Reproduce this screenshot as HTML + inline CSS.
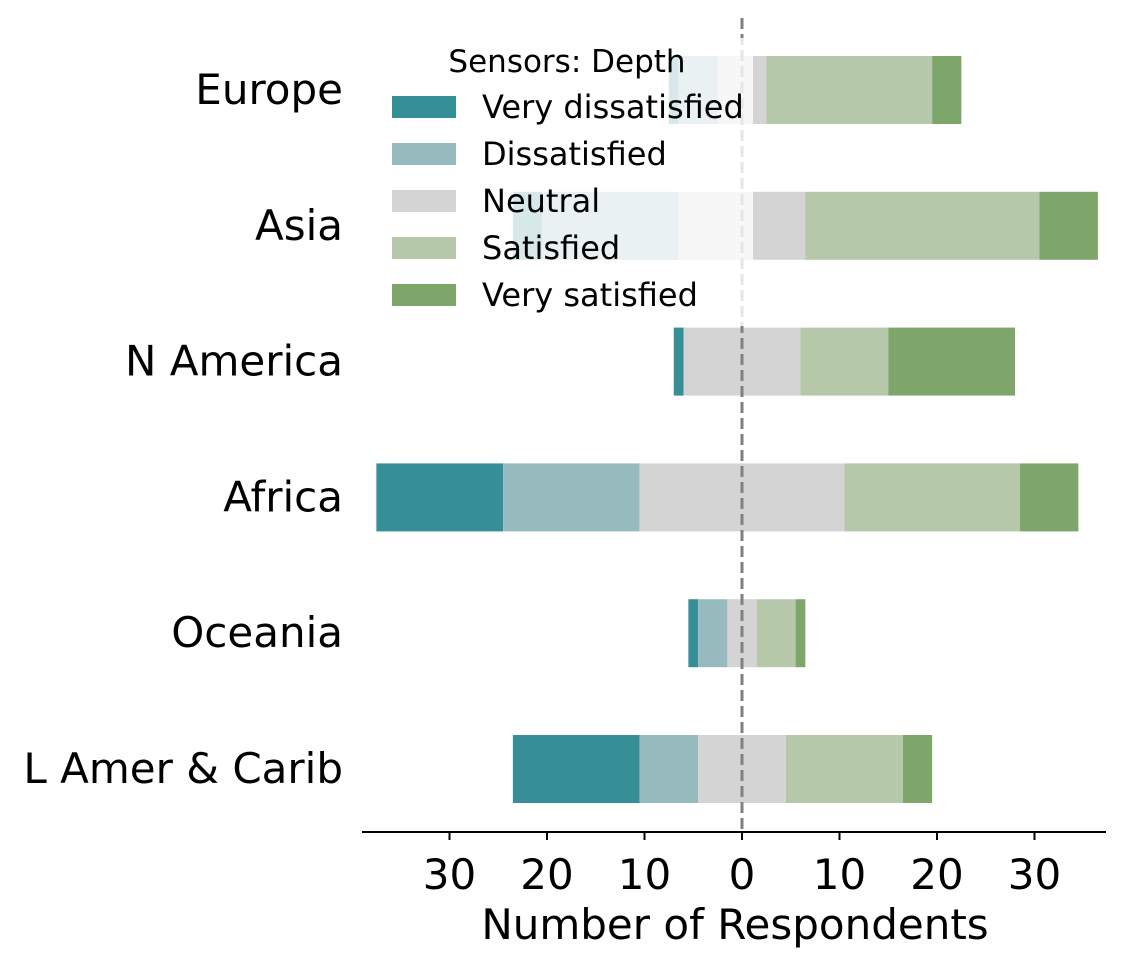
<!DOCTYPE html>
<html><head><meta charset="utf-8"><style>
body{margin:0;background:#fff;}
svg{display:block;font-family:"DejaVu Sans","Liberation Sans",sans-serif;}
</style></head><body>
<svg id="chart" width="1126" height="967" viewBox="0 0 1126 967"></svg>
<script>
const categories = ["Europe","Asia","N America","Africa","Oceania","L Amer & Carib"];
const seriesNames = ["Very dissatisfied","Dissatisfied","Neutral","Satisfied","Very satisfied"];
const veryDissatisfied = [1,3,1,13,1,13];
const dissatisfied = [4,14,0,14,3,6];
const neutral = [5,13,12,21,3,9];
const satisfied = [17,24,9,18,4,12];
const verySatisfied = [3,6,13,6,1,3];
const xTicks = [-30,-20,-10,0,10,20,30];
const colors = ["#368e96","#97babf","#d4d4d4","#b5c8a9","#7ea66a"];

const NS="http://www.w3.org/2000/svg";
const svg=document.getElementById('chart');
function mk(tag,attrs,parent){const e=document.createElementNS(NS,tag);for(const k in attrs)e.setAttribute(k,attrs[k]);(parent||svg).appendChild(e);return e;}
const x0=742, pxPer=9.75;
const xs=v=>x0+v*pxPer;
const rowY=[90,227,359,496,632,769];
const ys=i=>rowY[0]+i*(rowY[5]-rowY[0])/5;
const barH=68;
const series=[veryDissatisfied,dissatisfied,neutral,satisfied,verySatisfied];

categories.forEach((c,i)=>{
  let left=-(neutral[i]/2+dissatisfied[i]+veryDissatisfied[i]);
  const g=mk('g',{});
  
  
  series.forEach((s,j)=>{
    const r=mk('rect',{x:xs(left),y:ys(i)-barH/2,width:s[i]*pxPer,height:barH,fill:colors[j]},g);
    
    
    left+=s[i];
  });
  const t=mk('text',{x:343,y:ys(i)+14,'text-anchor':'end','font-size':42,fill:'#000'});
  t.textContent=c;
  
  
});
const zl=mk('line',{x1:x0,x2:x0,y1:18,y2:832,stroke:'#808080','stroke-width':3,'stroke-dasharray':'11,5'});


const ax=mk('line',{x1:362,x2:1106,y1:832,y2:832,stroke:'#000','stroke-width':2});


xTicks.forEach(v=>{
  const tk=mk('line',{x1:xs(v),x2:xs(v),y1:832,y2:840,stroke:'#000','stroke-width':2});
  
  
  const t=mk('text',{x:xs(v),y:889,'text-anchor':'middle','font-size':42});
  t.textContent=Math.abs(v);
  
  
});
const xl=mk('text',{x:735,y:939,'text-anchor':'middle','font-size':42});
xl.textContent='Number of Respondents';



const lg=mk('g',{});


mk('rect',{x:378,y:38,width:375,height:288,fill:'#fff','fill-opacity':0.8,rx:4},lg);
const lt=mk('text',{x:567,y:72,'text-anchor':'middle','font-size':31},lg);
lt.textContent='Sensors: Depth';


seriesNames.forEach((n,j)=>{
  const y=96+j*47;
  const p=mk('rect',{x:392,y:y,width:64,height:22,fill:colors[j]},lg);
  
  
  const t=mk('text',{x:482,y:y+22,'font-size':32},lg);
  t.textContent=n;
  
  
});
</script>
</body></html>
